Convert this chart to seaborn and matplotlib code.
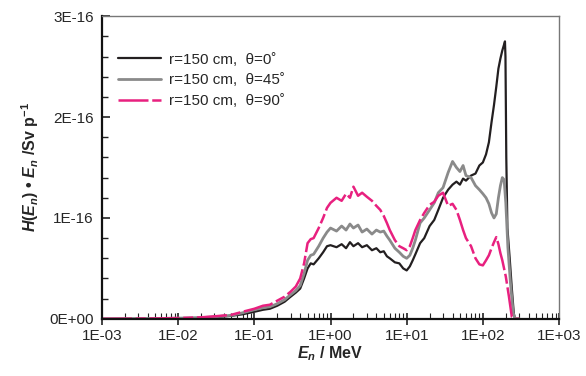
import numpy as np
import pandas as pd
import matplotlib
matplotlib.use("Agg")
import matplotlib.pyplot as plt
import seaborn as sns
from matplotlib.ticker import LogLocator, MultipleLocator, FixedLocator, FixedFormatter, NullFormatter

# Data (energy in MeV, H*E in units of 1E-16 Sv p^-1)
E_0 = [0.001, 0.003, 0.005, 0.01, 0.02, 0.03, 0.05, 0.07, 0.1, 0.13, 0.16, 0.2, 0.25, 0.3, 0.35,
       0.4, 0.45, 0.5, 0.55, 0.6, 0.7, 0.8, 0.9, 1.0, 1.2, 1.4, 1.6, 1.8, 2.0, 2.3, 2.6, 3.0, 3.5,
       4.0, 4.5, 5.0, 5.5, 6.0, 7.0, 8.0, 9.0, 10, 11, 12, 13, 15, 17, 20, 23, 26, 30, 35, 40, 45,
       50, 55, 60, 70, 80, 90, 100, 110, 120, 130, 140, 150, 160, 170, 180, 190, 195, 198, 203,
       210, 225, 240, 255, 265, 300]
H_0 = [0, 0, 0.002, 0.005, 0.01, 0.015, 0.03, 0.045, 0.07, 0.09, 0.10, 0.13, 0.17, 0.22, 0.26,
       0.30, 0.40, 0.50, 0.55, 0.54, 0.60, 0.66, 0.72, 0.73, 0.71, 0.74, 0.70, 0.76, 0.72, 0.75,
       0.71, 0.73, 0.68, 0.70, 0.66, 0.67, 0.62, 0.60, 0.56, 0.55, 0.50, 0.48, 0.52, 0.58, 0.64,
       0.75, 0.80, 0.92, 0.98, 1.08, 1.20, 1.28, 1.33, 1.36, 1.33, 1.39, 1.37, 1.42, 1.44, 1.52,
       1.55, 1.63, 1.75, 1.95, 2.12, 2.30, 2.48, 2.58, 2.66, 2.72, 2.75, 2.60, 1.60, 0.90, 0.60,
       0.30, 0.05, 0, 0]

E_45 = [0.001, 0.005, 0.01, 0.02, 0.03, 0.05, 0.07, 0.1, 0.13, 0.16, 0.2, 0.25, 0.3, 0.35, 0.4,
        0.45, 0.5, 0.55, 0.6, 0.7, 0.8, 0.9, 1.0, 1.2, 1.4, 1.6, 1.8, 2.0, 2.3, 2.6, 3.0, 3.5, 4.0,
        4.5, 5.0, 5.5, 6.0, 7.0, 8.0, 9.0, 10, 11, 12, 13, 15, 17, 20, 23, 26, 30, 35, 40, 45, 50,
        55, 60, 70, 80, 90, 100, 110, 120, 130, 140, 150, 160, 170, 180, 190, 200, 213, 230, 250,
        265, 300]
H_45 = [0, 0.003, 0.007, 0.012, 0.02, 0.035, 0.06, 0.09, 0.11, 0.12, 0.15, 0.19, 0.24, 0.28,
        0.33, 0.45, 0.58, 0.63, 0.64, 0.72, 0.80, 0.86, 0.90, 0.87, 0.92, 0.88, 0.94, 0.90, 0.93,
        0.86, 0.89, 0.84, 0.88, 0.86, 0.87, 0.82, 0.78, 0.70, 0.66, 0.62, 0.60, 0.63, 0.70, 0.78,
        0.95, 1.00, 1.08, 1.15, 1.25, 1.30, 1.45, 1.56, 1.50, 1.46, 1.52, 1.42, 1.40, 1.32, 1.28,
        1.24, 1.20, 1.14, 1.05, 1.00, 1.04, 1.20, 1.32, 1.40, 1.38, 1.15, 0.71, 0.36, 0.06, 0, 0]

E_90 = [0.001, 0.005, 0.01, 0.02, 0.03, 0.05, 0.07, 0.1, 0.13, 0.16, 0.2, 0.25, 0.3, 0.35, 0.4,
        0.45, 0.5, 0.55, 0.6, 0.7, 0.8, 0.9, 1.0, 1.2, 1.4, 1.6, 1.8, 2.0, 2.3, 2.6, 3.0, 3.5, 4.0,
        4.5, 5.0, 5.5, 6.0, 7.0, 8.0, 9.0, 10, 11, 12, 13, 15, 17, 20, 23, 26, 30, 35, 40, 45, 50,
        55, 60, 70, 80, 90, 100, 110, 120, 130, 140, 150, 160, 170, 180, 200, 220, 240, 260, 300]
H_90 = [0, 0.004, 0.008, 0.015, 0.025, 0.04, 0.07, 0.10, 0.13, 0.14, 0.18, 0.22, 0.27, 0.32,
        0.40, 0.55, 0.75, 0.79, 0.80, 0.90, 1.00, 1.10, 1.15, 1.20, 1.17, 1.24, 1.20, 1.31, 1.22,
        1.25, 1.21, 1.17, 1.12, 1.08, 1.02, 0.95, 0.88, 0.78, 0.72, 0.70, 0.68, 0.72, 0.80, 0.88,
        0.98, 1.05, 1.13, 1.16, 1.22, 1.25, 1.12, 1.14, 1.08, 0.98, 0.88, 0.80, 0.72, 0.60, 0.54,
        0.53, 0.58, 0.63, 0.70, 0.76, 0.81, 0.74, 0.65, 0.58, 0.42, 0.22, 0.02, 0, 0]

labels = ["r=150 cm,  \u03b8=0\u02da", "r=150 cm,  \u03b8=45\u02da", "r=150 cm,  \u03b8=90\u02da"]
colors = ["#231f20", "#8a8a8a", "#e8207f"]

y_ticks = [0, 1e-16, 2e-16, 3e-16]
y_ticklabels = ["0E+00", "1E-16", "2E-16", "3E-16"]
x_ticks = [1e-3, 1e-2, 1e-1, 1e0, 1e1, 1e2, 1e3]
x_ticklabels = ["1E-03", "1E-02", "1E-01", "1E+00", "1E+01", "1E+02", "1E+03"]

sns.set_style("white")
plt.rcParams["font.family"] = ["Liberation Sans", "DejaVu Sans"]
plt.rcParams["mathtext.fontset"] = "custom"
plt.rcParams["mathtext.rm"] = "Liberation Sans:bold"
plt.rcParams["mathtext.it"] = "Liberation Sans:bold:italic"
plt.rcParams["mathtext.bf"] = "Liberation Sans:bold"

fig = plt.figure(figsize=(5.86, 3.76), dpi=100)
ax = fig.add_axes([0.174, 0.152, 0.78, 0.805])

styles = ["-", "-", (0, (12, 1.5, 4, 1.5))]
widths = [1.6, 2.0, 1.8]
for E, H, lab, c, ls, lw in zip([E_0, E_45, E_90], [H_0, H_45, H_90], labels, colors, styles, widths):
    sns.lineplot(x=E, y=np.array(H) * 1e-16, ax=ax, color=c, label=lab, linestyle=ls,
                 linewidth=lw, estimator=None, sort=False)

ax.set_xscale("log")
ax.set_xlim(1e-3, 1e3)
ax.set_ylim(0, 3e-16)

ax.xaxis.set_major_locator(FixedLocator(x_ticks))
ax.xaxis.set_major_formatter(FixedFormatter(x_ticklabels))
ax.xaxis.set_minor_locator(LogLocator(base=10, subs=np.arange(2, 10), numticks=20))
ax.xaxis.set_minor_formatter(NullFormatter())
ax.yaxis.set_major_locator(FixedLocator(y_ticks))
ax.yaxis.set_major_formatter(FixedFormatter(y_ticklabels))
ax.yaxis.set_minor_locator(MultipleLocator(0.2e-16))

ax.tick_params(axis="x", which="major", direction="inout", length=8, width=1.2, labelsize=11,
               color="#222222", bottom=True, pad=3)
ax.tick_params(axis="x", which="minor", direction="in", length=4, width=0.8, color="#222222",
               bottom=True)
ax.tick_params(axis="y", which="major", direction="in", length=6, width=1.2, labelsize=11,
               color="#222222", left=True, pad=6)
ax.tick_params(axis="y", which="minor", direction="in", length=4, width=1.0, color="#222222",
               left=True)

for s in ["left", "bottom"]:
    ax.spines[s].set_color("#111111")
    ax.spines[s].set_linewidth(1.6)
for s in ["top", "right"]:
    ax.spines[s].set_color("#777777")
    ax.spines[s].set_linewidth(1.0)

ax.set_xlabel(r"$E_n$ / MeV", fontsize=11.5, fontweight="bold", labelpad=1)
ax.set_ylabel("$H(E_n)$ \u2022 $E_n$ /Sv p$^{-1}$", fontsize=11.5, fontweight="bold", labelpad=6)

leg = ax.legend(loc="upper left", bbox_to_anchor=(0.012, 0.915), frameon=False, fontsize=11,
                handlelength=2.8, handletextpad=0.5, labelspacing=0.45, borderaxespad=0.3)

fig.savefig("out.png", dpi=100)
